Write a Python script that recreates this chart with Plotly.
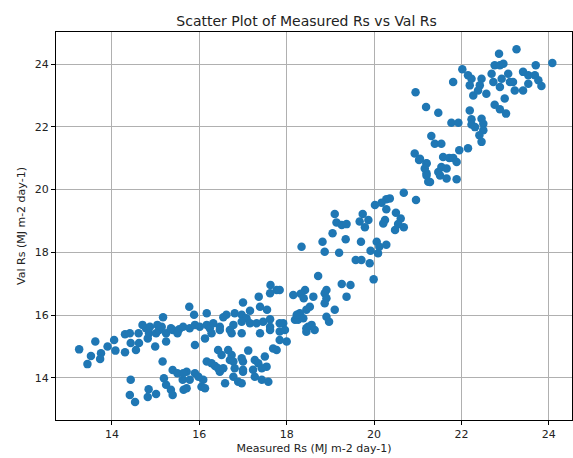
import plotly.graph_objects as go

# Lower-left upper band
measured_a = [13.25, 13.62, 13.52, 13.44, 13.75, 13.73, 13.90, 14.05, 14.08, 14.30, 14.30, 14.41, 14.43, 14.55,
              14.61, 14.62, 14.78, 14.87, 14.82, 14.99, 15.01, 15.08, 15.17, 15.14, 15.24, 15.39, 15.54, 14.70,
              15.04, 14.85, 15.24, 15.35, 15.50]
val_a = [14.91, 15.16, 14.70, 14.44, 14.79, 14.60, 15.00, 15.21, 14.87, 14.82, 15.39, 15.42, 15.11, 14.89,
         15.42, 15.11, 15.58, 15.63, 15.26, 15.00, 15.42, 15.53, 15.93, 15.63, 15.16, 15.53, 15.55, 15.69,
         15.69, 15.42, 15.42, 15.58, 15.42]

# Lower-left lower band
measured_b = [15.16, 14.43, 14.41, 14.53, 14.84, 14.82, 15.01, 15.19, 15.24, 15.35, 15.39, 15.39, 15.50, 15.62, 15.64]
val_b = [14.52, 13.94, 13.46, 13.23, 13.64, 13.39, 13.49, 13.99, 13.78, 13.62, 13.46, 14.25, 14.15, 13.94, 13.62]

# Middle (16-18) upper band
measured_c = [17.63, 17.77, 17.62, 17.36, 17.00, 15.77, 17.39, 17.55, 17.16, 16.17, 15.88, 16.62, 16.81, 16.97,
              16.55, 17.08, 17.62, 15.63, 15.78, 15.90, 16.01, 16.17, 16.24, 16.32, 16.47, 16.78, 16.97, 17.16,
              17.31, 17.46, 17.62, 17.84, 16.70, 16.74, 16.97, 17.39, 17.62, 17.84, 15.90, 16.13, 16.28, 16.47,
              17.84, 17.69, 17.77, 17.12]
val_c = [16.96, 16.80, 16.70, 16.59, 16.40, 16.27, 16.27, 16.17, 16.14, 16.06, 16.01, 16.01, 16.06, 16.01,
         15.93, 15.90, 15.87, 15.63, 15.58, 15.69, 15.63, 15.69, 15.58, 15.74, 15.63, 15.69, 15.79, 15.74,
         15.74, 15.79, 15.63, 15.74, 15.53, 15.42, 15.42, 15.42, 15.53, 15.48, 15.05, 15.26, 15.42, 15.53,
         15.21, 14.94, 14.89, 14.87]

# Middle (15.5-17.6) lower band
measured_d = [16.43, 16.51, 16.66, 16.74, 16.70, 16.78, 16.17, 16.28, 16.36, 16.43, 16.47, 16.55, 16.97, 17.00,
              17.27, 17.35, 17.50, 17.54, 17.43, 17.23, 17.00, 16.81, 16.78, 17.00, 17.27, 17.43, 17.58, 16.89,
              16.97, 16.59, 16.09, 16.05, 16.13, 15.90, 15.98, 15.71, 15.63, 15.71, 15.78]
val_d = [14.89, 14.73, 14.89, 14.73, 14.57, 14.52, 14.52, 14.47, 14.38, 14.31, 14.20, 14.31, 14.63, 14.52,
         14.57, 14.47, 14.68, 14.36, 14.31, 14.26, 14.26, 14.31, 14.04, 14.20, 14.04, 13.94, 13.88, 13.88,
         13.83, 13.83, 13.94, 13.72, 13.67, 14.15, 14.04, 14.20, 14.15, 13.67, 13.94]

# Rising section (17.8-21.2)
measured_e = [20.93, 21.03, 21.20, 21.20, 21.24, 20.68, 20.96, 20.36, 20.28, 20.17, 20.02, 20.28, 20.50, 20.61,
              20.25, 20.21, 20.48, 20.68, 20.55, 19.74, 19.67, 19.87, 19.79, 19.10, 19.14, 19.26, 19.37, 19.05,
              19.35, 18.82, 18.87, 19.20, 18.34, 19.70, 20.06, 20.12, 20.28, 19.92, 20.09, 19.58, 19.71, 19.90,
              19.99, 18.72, 19.26, 19.46, 19.37, 18.91, 18.87, 18.91, 18.87, 19.10, 18.91, 18.97, 18.42, 18.32,
              18.39, 18.61, 18.15, 18.53, 18.45, 18.30, 18.19, 18.49, 18.45, 18.64, 18.57, 17.92, 17.96, 18.00,
              17.84, 18.26, 18.38, 18.45, 18.23]
val_e = [21.15, 20.94, 20.84, 20.52, 20.25, 19.90, 19.67, 19.72, 19.69, 19.58, 19.51, 19.37, 19.26, 19.08,
         19.03, 18.92, 18.71, 18.80, 18.90, 19.22, 18.98, 19.03, 18.80, 19.22, 18.95, 18.87, 18.90, 18.61,
         18.42, 18.34, 18.02, 17.99, 18.18, 18.34, 18.34, 18.18, 18.24, 18.05, 17.97, 17.76, 17.76, 17.65,
         17.14, 17.25, 16.99, 16.96, 16.59, 16.80, 16.70, 16.54, 16.38, 16.17, 15.95, 15.79, 16.80, 16.68,
         16.54, 16.59, 16.64, 16.27, 16.17, 16.06, 15.85, 15.63, 15.47, 15.53, 15.69, 15.74, 15.53, 15.16,
         16.80, 15.85, 15.90, 15.58, 16.01]

# Upper-right cluster (21-24.1)
measured_f = [23.26, 22.86, 24.08, 23.70, 22.02, 21.81, 22.15, 22.23, 22.19, 22.46, 22.42, 22.57, 22.27, 22.38,
              22.76, 22.88, 22.96, 22.69, 22.73, 22.88, 22.92, 23.07, 23.11, 23.22, 23.18, 23.41, 23.53, 23.53,
              23.41, 23.68, 23.76, 23.83, 22.99, 22.76, 22.88, 23.02, 22.19, 21.19, 21.47, 21.77, 21.93, 22.23,
              22.23, 22.31, 22.46, 22.50, 22.50, 22.41, 22.46, 21.31, 21.39, 21.54, 22.15, 21.95, 21.58, 21.72,
              21.81, 21.89, 21.54, 21.66, 21.47, 21.20, 21.16, 21.20, 21.51, 21.66, 21.89, 21.28, 21.05, 20.95]
val_f = [24.47, 24.33, 24.03, 23.96, 23.83, 23.43, 23.64, 23.53, 23.32, 23.53, 23.32, 23.05, 23.00, 23.16,
         23.96, 23.96, 24.01, 23.69, 23.43, 23.27, 23.53, 23.69, 23.43, 23.16, 23.43, 23.75, 23.64, 23.37,
         23.16, 23.64, 23.48, 23.30, 22.90, 22.70, 22.56, 22.42, 22.52, 22.63, 22.45, 22.13, 22.13, 22.24,
         22.07, 21.99, 22.26, 22.10, 21.89, 21.73, 21.52, 21.71, 21.46, 21.46, 21.32, 21.25, 21.04, 21.01,
         21.01, 20.88, 20.72, 20.67, 20.56, 20.83, 20.67, 20.45, 20.45, 20.35, 20.33, 20.24, 20.98, 23.10]

measured = measured_a + measured_b + measured_c + measured_d + measured_e + measured_f
val = val_a + val_b + val_c + val_d + val_e + val_f

x_ticks = [14, 16, 18, 20, 22, 24]
y_ticks = [14, 16, 18, 20, 22, 24]

fig = go.Figure(go.Scatter(
    x=measured, y=val, mode="markers",
    marker=dict(color="#1f77b4", size=8.5, line=dict(width=0)),
))

axis_common = dict(
    showline=True, linecolor="black", linewidth=1, mirror=True,
    ticks="outside", ticklen=4, tickcolor="black",
    showgrid=True, gridcolor="#b0b0b0", gridwidth=0.8, zeroline=False,
    tickfont=dict(family="DejaVu Sans", size=11, color="#222"),
    automargin=False,
)

fig.update_layout(
    width=573, height=458,
    margin=dict(l=56, r=1, t=32, b=38),
    paper_bgcolor="white", plot_bgcolor="white",
    font=dict(family="DejaVu Sans", color="#222"),
    title=dict(text="Scatter Plot of Measured Rs vs Val Rs", x=0.535, xanchor="center",
               y=0.955, yanchor="middle", font=dict(size=14, color="#222")),
    xaxis=dict(range=[12.72, 24.53], tickvals=x_ticks,
               title=dict(text="Measured Rs (MJ m-2 day-1)", font=dict(size=11), standoff=4),
               **axis_common),
    yaxis=dict(range=[12.66, 25.02], tickvals=y_ticks,
               title=dict(text="Val Rs (MJ m-2 day-1)", font=dict(size=11), standoff=6),
               **axis_common),
    showlegend=False,
)

fig.write_html("out.html", config={"displayModeBar": False},
               post_script=["document.body.style.margin='0';"])
